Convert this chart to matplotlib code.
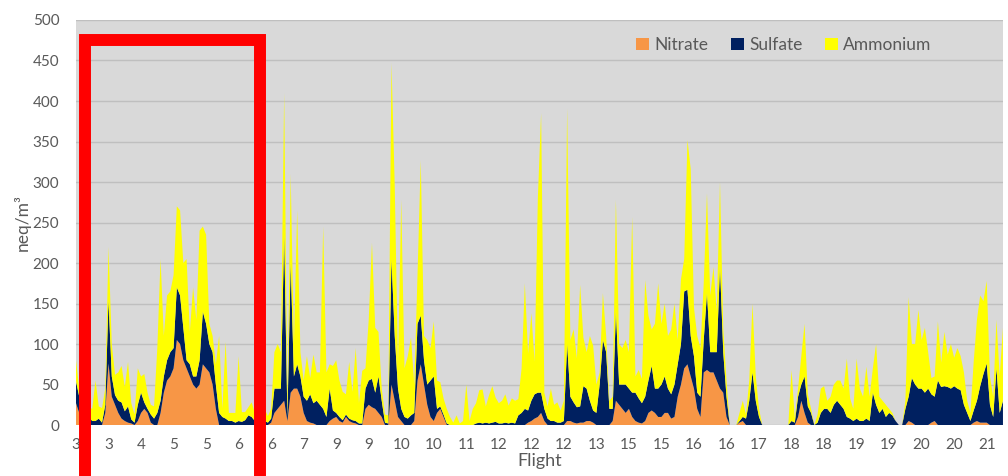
import numpy as np
import matplotlib.pyplot as plt
from matplotlib.patches import Patch, Rectangle

# ion concentrations per sample (neq/m3)
nitrate = [
    27, 15, 5, 2, 0, 0, 0, 0, 0, 15,
    76, 35, 25, 15, 8, 5, 3, 2, 0, 5,
    15, 20, 15, 3, 0, 0, 15, 40, 55, 60,
    70, 105, 100, 80, 70, 60, 50, 45, 50, 75,
    70, 65, 50, 20, 0, 0, 0, 0, 0, 0,
    0, 0, 0, 0, 0, 0, 0, 0, 0, 0,
    3, 15, 20, 25, 30, 5, 40, 45, 45, 35,
    15, 5, 3, 2, 0, 0, 0, 0, 5, 8,
    10, 5, 3, 10, 5, 3, 2, 0, 0, 20,
    25, 22, 20, 15, 10, 0, 0, 50, 30, 10,
    5, 0, 0, 0, 5, 55, 75, 50, 25, 10,
    5, 15, 20, 10, 0, 0, 0, 0, 0, 0,
    0, 0, 0, 0, 0, 0, 0, 0, 0, 0,
    0, 0, 0, 0, 0, 0, 0, 0, 0, 3,
    5, 8, 10, 15, 5, 0, 0, 0, 0, 0,
    0, 5, 5, 3, 2, 3, 3, 5, 5, 3,
    0, 0, 0, 0, 0, 5, 30, 25, 20, 15,
    20, 10, 5, 3, 2, 5, 15, 18, 15, 10,
    10, 15, 15, 8, 10, 35, 50, 70, 75, 60,
    45, 20, 10, 65, 68, 65, 65, 55, 45, 40,
    10, 0, 0, 0, 3, 5, 0, 0, 0, 0,
    0, 0, 0, 0, 0, 0, 0, 0, 0, 0,
    0, 0, 10, 30, 15, 3, 0, 0, 0, 0,
    0, 0, 0, 0, 0, 0, 0, 0, 0, 0,
    0, 0, 0, 0, 0, 0, 0, 0, 0, 0,
    0, 0, 0, 0, 0, 0, 5, 3, 0, 0,
    0, 0, 0, 3, 5, 0, 0, 0, 0, 0,
    0, 0, 0, 0, 0, 0, 3, 5, 3, 3,
    3, 0, 0, 0, 0, 0,
]
sulfate = [
    27, 20, 8, 8, 10, 5, 5, 8, 3, 10,
    78, 25, 12, 15, 20, 12, 20, 5, 3, 20,
    25, 8, 5, 10, 8, 15, 15, 20, 25, 30,
    25, 65, 60, 40, 10, 15, 10, 15, 30, 65,
    55, 35, 40, 30, 15, 10, 8, 5, 5, 3,
    5, 4, 6, 12, 10, 5, 3, 3, 5, 3,
    5, 30, 25, 20, 205, 5, 160, 15, 30, 25,
    20, 25, 35, 25, 30, 25, 20, 10, 40, 10,
    5, 5, 3, 3, 3, 3, 3, 2, 2, 25,
    30, 35, 20, 45, 20, 3, 2, 155, 80, 35,
    15, 10, 8, 12, 10, 70, 60, 30, 25, 45,
    55, 5, 3, 3, 2, 0, 0, 0, 0, 0,
    0, 0, 0, 2, 3, 2, 3, 2, 3, 4,
    2, 2, 3, 2, 3, 2, 12, 15, 20, 15,
    25, 30, 30, 25, 15, 8, 5, 5, 3, 3,
    5, 95, 30, 25, 20, 20, 45, 40, 25, 15,
    15, 50, 105, 90, 20, 15, 110, 25, 30, 35,
    25, 30, 35, 30, 25, 30, 40, 55, 30, 35,
    40, 45, 30, 30, 40, 40, 50, 95, 92, 50,
    40, 20, 25, 40, 95, 25, 25, 35, 150, 50,
    25, 0, 0, 0, 2, 5, 8, 30, 65, 30,
    10, 0, 0, 0, 0, 0, 0, 0, 0, 0,
    5, 3, 25, 20, 45, 20, 15, 0, 3, 15,
    20, 20, 15, 25, 30, 25, 20, 10, 8, 5,
    8, 5, 5, 8, 5, 40, 25, 15, 20, 10,
    15, 12, 5, 0, 0, 20, 30, 55, 50, 45,
    45, 40, 45, 35, 30, 55, 47, 48, 47, 45,
    48, 45, 43, 25, 15, 5, 15, 25, 45, 60,
    73, 25, 10, 70, 15, 30,
]
ammonium = [
    26, 10, 10, 10, 12, 15, 50, 15, 18, 20,
    66, 40, 25, 35, 45, 30, 55, 20, 10, 45,
    20, 35, 20, 12, 15, 80, 175, 50, 80, 75,
    90, 100, 105, 80, 125, 40, 110, 70, 160, 105,
    110, 25, 20, 25, 95, 10, 95, 10, 10, 12,
    80, 12, 10, 10, 18, 10, 8, 10, 15, 8,
    12, 45, 55, 45, 175, 20, 110, 40, 190, 30,
    20, 55, 20, 60, 35, 40, 225, 55, 30, 55,
    65, 45, 35, 25, 70, 35, 90, 25, 65, 25,
    75, 168, 80, 55, 15, 10, 10, 242, 185, 30,
    258, 60, 77, 96, 35, 60, 192, 30, 55, 40,
    68, 35, 30, 20, 18, 10, 3, 12, 2, 5,
    50, 5, 20, 25, 40, 42, 20, 35, 45, 30,
    25, 28, 35, 22, 30, 28, 20, 55, 155, 70,
    108, 40, 240, 345, 20, 15, 40, 20, 25, 15,
    25, 291, 70, 90, 60, 150, 60, 45, 80, 80,
    35, 15, 58, 20, 10, 15, 138, 50, 45, 55,
    45, 217, 20, 35, 30, 144, 80, 45, 80, 130,
    75, 90, 65, 80, 100, 30, 80, 40, 185, 206,
    60, 70, 60, 70, 123, 70, 105, 50, 105, 30,
    20, 0, 0, 0, 10, 20, 5, 25, 85, 30,
    10, 0, 0, 0, 0, 0, 0, 0, 0, 0,
    63, 5, 10, 35, 65, 15, 5, 0, 10, 30,
    28, 10, 20, 25, 25, 30, 25, 72, 25, 15,
    74, 40, 30, 64, 30, 30, 75, 20, 10, 15,
    5, 3, 0, 0, 0, 10, 123, 42, 50, 97,
    60, 80, 45, 20, 25, 73, 30, 67, 40, 55,
    35, 50, 42, 40, 15, 10, 60, 100, 112, 90,
    102, 35, 25, 60, 45, 90,
]

# flight number shown under every 10th sample
flight_labels = ["3", "3", "4", "5", "5", "6", "6", "7", "9", "9", "10", "10",
                 "11", "12", "12", "12", "13", "15", "15", "16", "16", "17",
                 "18", "18", "19", "19", "20", "20", "21"]
label_step = 10

plt.rcParams['font.family'] = ['Lato', 'DejaVu Sans']
grey = "#595959"
colors = ["#F79646", "#002060", "#FFFF00"]

fig = plt.figure(figsize=(10.08, 4.76), dpi=100)
ax = fig.add_axes([0.0754, 0.107, 0.9196, 0.851])

x = np.arange(len(nitrate))
ax.stackplot(x, nitrate, sulfate, ammonium, colors=colors, linewidth=0)

ax.set_facecolor("#D9D9D9")
ax.set_xlim(0, len(nitrate) - 1)
ax.set_ylim(0, 500)
ax.set_yticks(np.arange(0, 501, 50))
ax.yaxis.grid(True, color="#BFBFBF", lw=1)
ax.set_axisbelow(True)
ax.set_xticks(x[::label_step][:len(flight_labels)])
ax.set_xticklabels(flight_labels)
ax.tick_params(axis='both', length=0, labelsize=11, labelcolor=grey)
ax.tick_params(axis='x', pad=9)
ax.tick_params(axis='y', pad=12)
for s in ax.spines.values():
    s.set_visible(False)

ax.set_ylabel("neq/m³", fontsize=12.5, color=grey)
ax.yaxis.set_label_coords(-0.049, 0.5)
ax.set_xlabel("Flight", fontsize=13, color=grey)
ax.xaxis.set_label_coords(0.5, -0.068)

handles = [Patch(facecolor=c, edgecolor='none') for c in colors]
ax.legend(handles, ["Nitrate", "Sulfate", "Ammonium"], ncol=3, frameon=False,
          loc='center right', bbox_to_anchor=(0.94, 0.938), fontsize=12.5,
          handlelength=0.75, handleheight=0.75, handletextpad=0.3,
          columnspacing=1.3, labelcolor=grey)

# red box around flights 3-6
box = Rectangle((2.8, -110), 53.8, 585, fill=False, edgecolor="#FF0000",
                lw=8.6, joinstyle='miter', clip_on=False, zorder=5)
ax.add_patch(box)

fig.savefig("out.png", dpi=100)
